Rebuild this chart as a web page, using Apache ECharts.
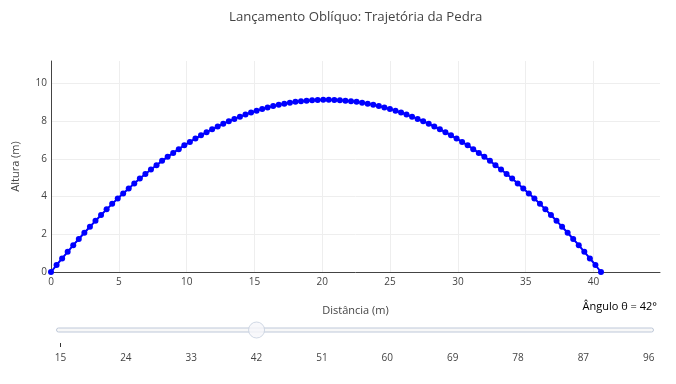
<!DOCTYPE html>
<html>
<head>
<meta charset="utf-8">
<script src="https://cdn.jsdelivr.net/npm/echarts@6/dist/echarts.min.js"></script>
<style>html,body{margin:0;padding:0;background:#fff}#chart{width:676px;height:384px}</style>
</head>
<body>
<div id="chart"></div>
<script>
const titleText = 'Lançamento Oblíquo: Trajetória da Pedra';
const xName = 'Distância (m)';
const yName = 'Altura (m)';
const sliderLabel = 'Ângulo θ = 42°';
const sliderTicks = ['15','24','33','42','51','60','69','78','87','96'];
const sliderValue = '42';

const distX = [0.00,0.41,0.82,1.23,1.64,2.05,2.46,2.87,3.28,3.69,4.10,4.51,4.92,5.32,5.73,6.14,6.55,6.96,7.37,7.78,
8.19,8.60,9.01,9.42,9.83,10.24,10.65,11.06,11.47,11.88,12.29,12.70,13.11,13.52,13.93,14.34,14.75,15.16,15.57,15.97,
16.38,16.79,17.20,17.61,18.02,18.43,18.84,19.25,19.66,20.07,20.48,20.89,21.30,21.71,22.12,22.53,22.94,23.35,23.76,24.17,
24.58,24.99,25.40,25.81,26.21,26.62,27.03,27.44,27.85,28.26,28.67,29.08,29.49,29.90,30.31,30.72,31.13,31.54,31.95,32.36,
32.77,33.18,33.59,34.00,34.41,34.82,35.23,35.64,36.05,36.45,36.86,37.27,37.68,38.09,38.50,38.91,39.32,39.73,40.14,40.55];
const heightY = [0.00,0.37,0.72,1.07,1.42,1.75,2.08,2.40,2.71,3.02,3.32,3.61,3.89,4.16,4.43,4.69,4.95,5.19,5.43,5.66,
5.89,6.10,6.31,6.51,6.71,6.89,7.07,7.24,7.41,7.56,7.71,7.85,7.99,8.11,8.23,8.34,8.45,8.55,8.64,8.72,
8.79,8.86,8.92,8.97,9.02,9.05,9.08,9.10,9.12,9.13,9.13,9.12,9.10,9.08,9.05,9.02,8.97,8.92,8.86,8.79,
8.72,8.64,8.55,8.45,8.34,8.23,8.11,7.99,7.85,7.71,7.56,7.41,7.24,7.07,6.89,6.71,6.51,6.31,6.10,5.89,
5.66,5.43,5.19,4.95,4.69,4.43,4.16,3.89,3.61,3.32,3.02,2.71,2.40,2.08,1.75,1.42,1.07,0.72,0.37,0.00];

const FONT = '"Open Sans", sans-serif';
const chart = echarts.init(document.getElementById('chart'), null, {renderer:'canvas'});
const pts = distX.map((x,i)=>[x, heightY[i]]);

chart.setOption({
  animation:false,
  backgroundColor:'#fff',
  textStyle:{fontFamily:FONT},
  title:{text:titleText, left:224, top:6,
    textStyle:{fontFamily:FONT, fontSize:13.2, fontWeight:'normal', color:'#444'}},
  graphic:[
    {type:'rect', shape:{x:56.5, y:328, width:597, height:4, r:2},
     style:{fill:'#f8f8f8', stroke:'#bec8d9', lineWidth:1}, z:1},
    {type:'text', right:19, top:301,
     style:{text:sliderLabel, font:'11px "Open Sans", sans-serif', fill:'#000'}}
  ],
  grid:[
    {left:51, right:16, top:61, bottom:112, containLabel:false},
    {left:60.5, right:27.3, top:330, bottom:41, containLabel:false}
  ],
  xAxis:[
    {type:'value', gridIndex:0, min:0, max:44.9, interval:5,
     name:xName, nameLocation:'middle', nameGap:33,
     nameTextStyle:{fontFamily:FONT, fontSize:11, color:'#444'},
     axisLine:{show:true, onZero:false, lineStyle:{color:'#444', width:1}},
     axisTick:{show:false},
     axisLabel:{fontFamily:FONT, fontSize:10, color:'#444', margin:5, showMaxLabel:false},
     splitLine:{show:true, showMaxLine:false, lineStyle:{color:'#eee', width:1}}},
    {type:'category', gridIndex:1, data:sliderTicks, boundaryGap:false,
     axisLine:{show:false},
     axisTick:{show:true, length:4, interval:function(i){return i===0;}, lineStyle:{color:'#333'}},
     axisLabel:{fontFamily:FONT, fontSize:10, color:'#444', margin:10, interval:0},
     splitLine:{show:false}}
  ],
  yAxis:[
    {type:'value', gridIndex:0, min:0, max:11.18, interval:2,
     name:yName, nameLocation:'middle', nameGap:30,
     nameTextStyle:{fontFamily:FONT, fontSize:11, color:'#444'},
     axisLine:{show:true, onZero:false, lineStyle:{color:'#444', width:1}},
     axisTick:{show:false},
     axisLabel:{fontFamily:FONT, fontSize:10, color:'#444', margin:4, showMaxLabel:false},
     splitLine:{show:true, showMaxLine:false, lineStyle:{color:'#eee', width:1}}},
    {type:'value', gridIndex:1, min:0, max:1, show:false}
  ],
  series:[
    {type:'line', xAxisIndex:0, yAxisIndex:0, data:pts,
     symbol:'circle', symbolSize:6, showSymbol:true,
     itemStyle:{color:'#0000ff'}, lineStyle:{color:'#0000ff', width:2},
     z:3},
    {type:'scatter', xAxisIndex:1, yAxisIndex:1, data:[[sliderValue, 1]],
     symbol:'circle', symbolSize:16,
     itemStyle:{color:'#f6f6fa', borderColor:'#c6cfdf', borderWidth:1}, z:5}
  ]
});
</script>
</body>
</html>
